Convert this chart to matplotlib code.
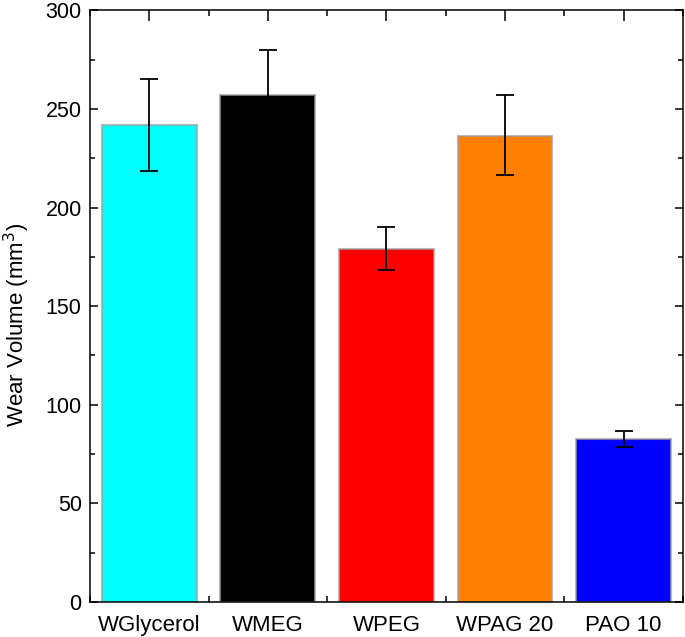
import matplotlib
matplotlib.use('Agg')
import matplotlib.pyplot as plt
from matplotlib.ticker import MultipleLocator, FixedLocator

plt.rcParams['font.family'] = ['Liberation Sans', 'DejaVu Sans']

# %% data
labels = ['WGlycerol', 'WMEG', 'WPEG', 'WPAG 20', 'PAO 10']
wear = [241.8, 257.2, 179.2, 236.5, 82.5]
err_low = [23.4, 23.0, 10.8, 20.0, 3.8]
err_high = [23.4, 22.6, 11.0, 20.5, 4.3]
colors = ['#00ffff', '#000000', '#ff0000', '#ff8000', '#0000ff']

# %% plotting
fig = plt.figure(figsize=(6.85, 6.37), dpi=100)
ax = fig.add_axes([0.1314, 0.0549, 0.8656, 0.929])

x = range(len(labels))
ax.bar(x, wear, width=0.8, color=colors,
       edgecolor=(0.62, 0.62, 0.62, 0.7), linewidth=1.5, zorder=2)
ax.errorbar(x, wear, yerr=[err_low, err_high], fmt='none', ecolor='k',
            elinewidth=1.3, capsize=6.5, capthick=1.3, zorder=3)

ax.set_xlim(-0.5, 4.5)
ax.set_ylim(0, 300)
ax.set_xticks(list(x))
ax.set_xticklabels(labels)
ax.xaxis.set_minor_locator(FixedLocator([i + 0.5 for i in range(-1, 5)]))
ax.yaxis.set_major_locator(MultipleLocator(50))
ax.yaxis.set_minor_locator(MultipleLocator(25))

ax.tick_params(which='both', direction='in', top=True, right=True,
               width=1.1, labelsize=15.5)
ax.tick_params(axis='x', which='major', length=8, pad=9, labelsize=16)
ax.tick_params(axis='x', which='minor', length=4)
ax.tick_params(axis='y', which='major', length=6, pad=6)
ax.tick_params(axis='y', which='minor', length=3.5)
for sp in ax.spines.values():
    sp.set_linewidth(1.1)

ax.set_ylabel('Wear Volume (mm$^3$)', fontsize=16)
ax.yaxis.set_label_coords(-0.097, 0.468)

fig.savefig('out.png', dpi=100)
